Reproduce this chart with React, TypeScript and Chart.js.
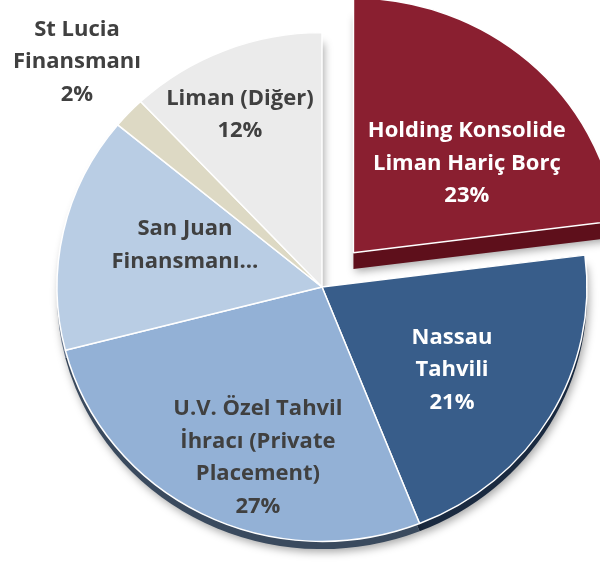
import React, { useEffect, useRef } from "react";
import { Chart, registerables } from "chart.js";

Chart.register(...registerables);

// ---- data ----
const categories = [
  "Holding Konsolide Liman Hariç Borç",
  "Nassau Tahvili",
  "U.V. Özel Tahvil İhracı (Private Placement)",
  "San Juan Finansmanı",
  "St Lucia Finansmanı",
  "Liman (Diğer)",
];
const shares = [23, 21, 27, 15, 2, 12];
const labelLines = [
  ["Holding Konsolide", "Liman Hariç Borç"],
  ["Nassau", "Tahvili"],
  ["U.V. Özel Tahvil", "İhracı (Private", "Placement)"],
  ["San Juan", "Finansmanı…"],
  ["St Lucia", "Finansmanı"],
  ["Liman (Diğer)"],
];
const showPercent = [true, true, true, false, true, true];

// ---- styles ----
const faceColors = ["#8A1F30", "#385D8A", "#93B1D6", "#B9CDE4", "#DDD9C4", "#EBEBEB"];
const depthColors = ["#5E0F1B", "#1A2A40", "#3A4A5E", "#5E6E85", "#8E8A74", "#9A9A9A"];
const textColors = ["#FFFFFF", "#FFFFFF", "#404040", "#404040", "#404040", "#404040"];
const explodeOffsets = [190, 0, 0, 0, 0, 0]; // chart.js translates by offset/4
const depthPx = [17, 8, 8, 8, 8, 8];
const TILT = 0.96; // vertical squash for perspective
// label placement: angular nudge (deg) from mid-angle, radius fraction
const labelPlace = [
  { da: 9.2, rf: 0.554 },
  { da: 3.0, rf: 0.589 },
  { da: -7.2, rf: 0.714 },
  { da: 5.1, rf: 0.543 },
  { da: 0.5, rf: 1.279 },
  { da: -3, rf: 0.744 },
];
const FONT = "bold 22px 'Open Sans', Lato, sans-serif";
const LINE_H = 32.5;

const tiltPlugin = {
  id: "tilt",
  beforeDatasetsDraw(chart: any) {
    const ctx = chart.ctx;
    const arc = chart.getDatasetMeta(0).data[0];
    ctx.save();
    ctx.translate(0, arc.y);
    ctx.scale(1, TILT);
    ctx.translate(0, -arc.y);
  },
  afterDatasetsDraw(chart: any) {
    chart.ctx.restore();
  },
};

const depthPlugin = {
  id: "depth3d",
  beforeDatasetsDraw(chart: any) {
    const ctx = chart.ctx;
    const meta = chart.getDatasetMeta(0);
    meta.data.forEach((arc: any, i: number) => {
      const p = arc.getProps(["x", "y", "startAngle", "endAngle", "outerRadius"], true);
      const mid = (p.startAngle + p.endAngle) / 2;
      const disp = (arc.options.offset || 0) / 4;
      const cx = p.x + Math.cos(mid) * disp;
      const cy = p.y + Math.sin(mid) * disp + depthPx[i];
      ctx.save();
      ctx.shadowColor = "rgba(0,0,0,0.35)";
      ctx.shadowBlur = 8;
      ctx.shadowOffsetX = 2;
      ctx.shadowOffsetY = 3;
      ctx.beginPath();
      ctx.moveTo(cx, cy);
      ctx.arc(cx, cy, p.outerRadius, p.startAngle, p.endAngle);
      ctx.closePath();
      ctx.fillStyle = depthColors[i];
      ctx.fill();
      ctx.restore();
    });
  },
};

const labelPlugin = {
  id: "sliceLabels",
  afterDatasetsDraw(chart: any) {
    const ctx = chart.ctx;
    const meta = chart.getDatasetMeta(0);
    const total = shares.reduce((a, b) => a + b, 0);
    meta.data.forEach((arc: any, i: number) => {
      const p = arc.getProps(["x", "y", "startAngle", "endAngle", "outerRadius"], true);
      const mid = (p.startAngle + p.endAngle) / 2;
      const disp = (arc.options.offset || 0) / 4;
      const cx = p.x + Math.cos(mid) * disp;
      const cy = p.y + Math.sin(mid) * disp;
      const a = mid + (labelPlace[i].da * Math.PI) / 180;
      const r = labelPlace[i].rf * p.outerRadius;
      const tx = cx + Math.cos(a) * r;
      const ty = p.y + (cy + Math.sin(a) * r - p.y) * TILT;
      const lines = [...labelLines[i]];
      if (showPercent[i]) lines.push(Math.round((shares[i] / total) * 100) + "%");
      ctx.save();
      ctx.font = FONT;
      ctx.fillStyle = textColors[i];
      ctx.textAlign = "center";
      ctx.textBaseline = "middle";
      const top = ty - ((lines.length - 1) * LINE_H) / 2;
      lines.forEach((ln, k) => ctx.fillText(ln, tx, top + k * LINE_H));
      ctx.restore();
    });
  },
};

export default function App() {
  const ref = useRef<HTMLCanvasElement>(null);
  useEffect(() => {
    if (!ref.current) return;
    const chart = new Chart(ref.current, {
      type: "pie",
      data: {
        labels: categories,
        datasets: [
          {
            data: shares,
            backgroundColor: faceColors,
            borderColor: "#FFFFFF",
            borderWidth: 1.5,
            offset: explodeOffsets,
            hoverOffset: 0,
          } as any,
        ],
      },
      options: {
        animation: false,
        responsive: false,
        maintainAspectRatio: false,
        radius: 265,
        rotation: 0,
        layout: { padding: { left: 44, top: 12, right: 0, bottom: 0 } },
        plugins: { legend: { display: false }, tooltip: { enabled: false } },
        events: [],
      } as any,
      plugins: [tiltPlugin, depthPlugin, labelPlugin],
    });
    return () => chart.destroy();
  }, []);
  return (
    <div style={{ position: "absolute", left: 0, top: 0, width: 600, height: 562, background: "#fff" }}>
      <canvas ref={ref} width={600} height={562} style={{ width: 600, height: 562 }} />
    </div>
  );
}
